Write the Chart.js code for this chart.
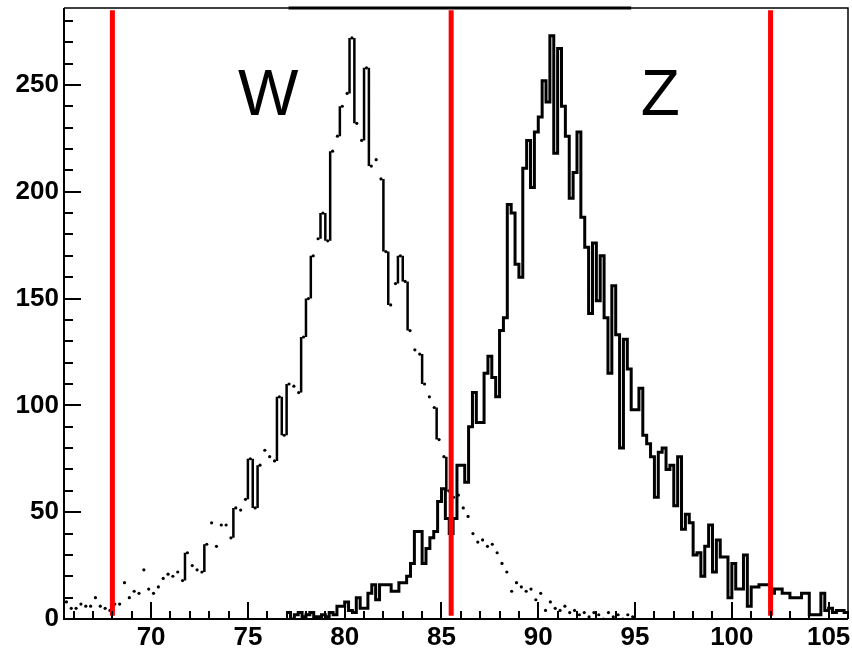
<!DOCTYPE html>
<html>
<head>
<meta charset="utf-8">
<title>W / Z mass</title>
<script src="https://cdn.jsdelivr.net/npm/chart.js@4.4.0/dist/chart.umd.min.js"></script>
<style>
  body { margin: 0; background: #fff; }
</style>
</head>
<body>
<canvas id="massPlot" width="852" height="652"></canvas>
<script>
// axis ranges and tick labels
const xMin = 65.5, xMax = 106;
const yMin = 0, yMax = 286;
const xTickLabels = [70, 75, 80, 85, 90, 95, 100, 105];
const yTickLabels = [0, 50, 100, 150, 200, 250];

// W histogram (bins of 0.25 from 65.5)
const wStart = 65.5;
const wBinWidth = 0.25;
const wCounts = [
    8, 5, 5, 7, 6, 6, 10, 6, 5, 4,
    7, 7, 17, 10, 13, 12, 23, 14, 12, 15,
    19, 21, 20, 22, 18, 31, 25, 23, 22, 35,
    45, 34, 44, 44, 38, 52, 51, 56, 75, 52,
    72, 79, 76, 74, 104, 86, 110, 109, 106, 132,
    150, 170, 178, 190, 177, 219, 226, 240, 246, 272,
    232, 224, 258, 212, 215, 206, 172, 147, 157, 170,
    158, 135, 126, 124, 110, 104, 99, 84, 76, 60,
    57, 58, 52, 48, 40, 36, 37, 34, 35, 31,
    26, 22, 13, 17, 15, 13, 14, 9, 12, 4,
    8, 5, 4, 6, 3, 4, 2, 3, 1, 3,
    2, 0, 3, 1, 2, 0, 2, 1
];

// Z histogram (bins of 0.2 from 77.0)
const zStart = 77.0;
const zBinWidth = 0.2;
const zCounts = [
    3, 0, 2, 3, 1, 2, 3, 1, 1, 2,
    1, 3, 2, 6, 6, 8, 4, 3, 10, 5,
    5, 12, 16, 9, 16, 16, 16, 13, 13, 17,
    17, 20, 26, 41, 41, 26, 33, 38, 41, 55,
    61, 47, 40, 47, 72, 72, 64, 90, 106, 92,
    92, 115, 123, 113, 104, 135, 141, 194, 190, 166,
    160, 211, 224, 202, 228, 235, 252, 242, 273, 218,
    267, 240, 226, 197, 209, 228, 188, 174, 143, 176,
    149, 170, 141, 115, 156, 133, 80, 131, 117, 98,
    98, 108, 86, 82, 76, 57, 78, 80, 70, 72,
    53, 76, 42, 49, 45, 30, 31, 20, 34, 44,
    22, 37, 29, 29, 10, 26, 14, 14, 30, 6,
    15, 15, 16, 16, 16, 12, 14, 14, 12, 12,
    10, 10, 10, 12, 12, 2, 2, 2, 12, 4,
    5, 3, 4, 4, 3
];

// mass window cuts (red lines)
const cutValues = [68.0, 85.5, 102.0];

// peak labels
const peakLabels = ['W', 'Z'];
const peakLabelX = [76.05, 96.3];
const peakLabelY = 236;

// ---- build datasets from the arrays ----
const zPoints = zCounts.map((c, i) => ({ x: zStart + i * zBinWidth, y: c }));
zPoints.push({ x: zStart + zCounts.length * zBinWidth, y: zCounts[zCounts.length - 1] });

// W is drawn faintly, as in the scanned plot: bin tops as dots, big jumps as strokes
const wDots = wCounts.map((c, i) => ({ x: wStart + (i + 0.5) * wBinWidth, y: c }));
const wEdges = [];
for (let i = 1; i < wCounts.length; i++) {
    if (Math.abs(wCounts[i] - wCounts[i - 1]) < 12) continue;
    const edge = wStart + i * wBinWidth;
    wEdges.push({ x: edge, y: wCounts[i - 1] }, { x: edge, y: wCounts[i] }, { x: edge, y: null });
}

const cutSets = cutValues.map(v => ({
    type: 'line',
    data: [{ x: v, y: 1.5 }, { x: v, y: yMax - 1 }],
    borderColor: '#ff0000',
    borderWidth: 5,
    pointRadius: 0,
    order: 0
}));

const tickFont = { family: 'Liberation Sans', size: 26, weight: 'bold', lineHeight: 1 };

// frame, inward tick marks and peak labels
const decorations = {
    id: 'decorations',
    afterDatasetsDraw(chart) {
        const { ctx, chartArea: a, scales: { x, y } } = chart;
        ctx.save();
        ctx.strokeStyle = '#000';
        ctx.lineWidth = 2;
        for (let v = Math.ceil(xMin); v <= xMax; v++) {
            const px = Math.round(x.getPixelForValue(v));
            const len = v % 5 === 0 ? 17 : 8;
            ctx.beginPath();
            ctx.moveTo(px, a.bottom);
            ctx.lineTo(px, a.bottom - len);
            ctx.stroke();
        }
        for (let v = 10; v <= yMax; v += 10) {
            const py = Math.round(y.getPixelForValue(v));
            const len = v % 50 === 0 ? 17 : 9;
            ctx.beginPath();
            ctx.moveTo(a.left, py);
            ctx.lineTo(a.left + len, py);
            ctx.stroke();
        }
        // frame
        ctx.beginPath();
        ctx.moveTo(a.left, a.top);
        ctx.lineTo(a.left, a.bottom);
        ctx.lineTo(a.right, a.bottom);
        ctx.stroke();
        ctx.lineWidth = 1.5;
        ctx.beginPath();
        ctx.moveTo(a.left, a.top);
        ctx.lineTo(a.right, a.top);
        ctx.lineTo(a.right, a.bottom);
        ctx.stroke();
        ctx.lineWidth = 3;
        ctx.beginPath();
        ctx.moveTo(x.getPixelForValue(77.1), a.top);
        ctx.lineTo(x.getPixelForValue(94.8), a.top);
        ctx.stroke();

        ctx.fillStyle = '#000';
        ctx.font = '64px "Liberation Sans"';
        ctx.textAlign = 'center';
        ctx.textBaseline = 'alphabetic';
        peakLabels.forEach((t, i) => {
            ctx.fillText(t, x.getPixelForValue(peakLabelX[i]), y.getPixelForValue(peakLabelY));
        });
        ctx.restore();
    }
};

const chart = new Chart(document.getElementById('massPlot').getContext('2d'), {
    type: 'scatter',
    data: {
        datasets: [
            ...cutSets,
            {
                type: 'line',
                data: zPoints,
                stepped: 'before',
                borderColor: '#000',
                borderWidth: 3,
                pointRadius: 0,
                fill: false,
                order: 1
            },
            {
                type: 'line',
                data: wEdges,
                spanGaps: false,
                borderColor: '#000',
                borderWidth: 2.5,
                pointRadius: 0,
                order: 2
            },
            {
                data: wDots,
                showLine: false,
                backgroundColor: '#000',
                borderWidth: 0,
                pointRadius: 1.6,
                order: 2
            }
        ]
    },
    options: {
        responsive: false,
        animation: false,
        layout: { padding: { left: 0, right: 1, top: 8, bottom: 0 } },
        plugins: {
            legend: { display: false },
            tooltip: { enabled: false }
        },
        scales: {
            x: {
                type: 'linear',
                min: xMin,
                max: xMax,
                grid: { display: false, drawTicks: false },
                border: { display: false },
                afterBuildTicks: axis => { axis.ticks = xTickLabels.map(v => ({ value: v })); },
                afterFit: axis => { axis.height = 33; axis.paddingRight = 0; axis.paddingLeft = 0; },
                ticks: { color: '#000', font: tickFont, padding: 5.5, maxRotation: 0 }
            },
            y: {
                type: 'linear',
                min: yMin,
                max: yMax,
                grid: { display: false, drawTicks: false },
                border: { display: false },
                afterBuildTicks: axis => { axis.ticks = yTickLabels.map(v => ({ value: v })); },
                afterFit: axis => { axis.width = 64; axis.paddingTop = 0; axis.paddingBottom = 0; },
                ticks: { color: '#000', font: tickFont, padding: 5 }
            }
        }
    },
    plugins: [decorations]
});
</script>
</body>
</html>
